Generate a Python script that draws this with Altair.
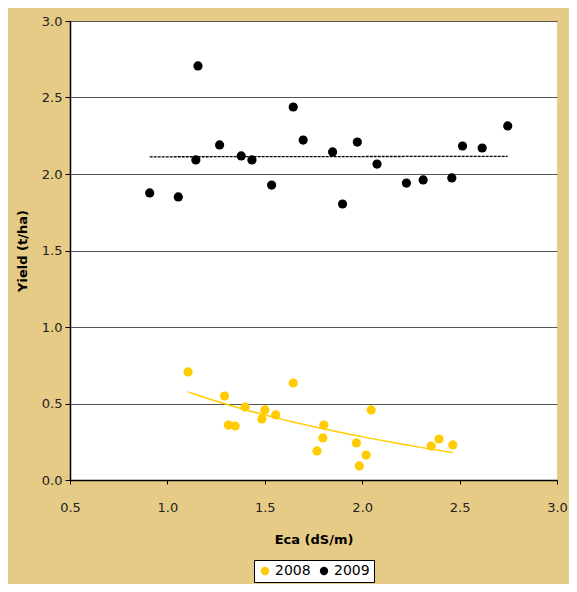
import altair as alt
import pandas as pd

eca_2008 = [1.106, 1.293, 1.313, 1.348, 1.399, 1.485, 1.500, 1.556, 1.646, 1.768,
            1.798, 1.803, 1.970, 1.985, 2.020, 2.046, 2.354, 2.394, 2.465]
yield_2008 = [0.706, 0.549, 0.359, 0.353, 0.477, 0.399, 0.458, 0.425, 0.634, 0.190,
              0.275, 0.359, 0.242, 0.092, 0.163, 0.458, 0.222, 0.268, 0.229]

eca_2009 = [0.909, 1.056, 1.146, 1.157, 1.268, 1.379, 1.434, 1.535, 1.646, 1.697,
            1.848, 1.899, 1.975, 2.076, 2.227, 2.313, 2.460, 2.515, 2.616, 2.747]
yield_2009 = [1.876, 1.850, 2.092, 2.706, 2.190, 2.118, 2.092, 1.928, 2.438, 2.222,
              2.144, 1.804, 2.209, 2.065, 1.941, 1.961, 1.974, 2.183, 2.170, 2.314]

years = ["2008", "2009"]
colors = ["#FFCC00", "#000000"]

df = pd.DataFrame({
    "Eca": eca_2008 + eca_2009,
    "Yield": yield_2008 + yield_2009,
    "Year": ["2008"] * len(eca_2008) + ["2009"] * len(eca_2009),
})

FONT = "DejaVu Sans"

xscale = alt.Scale(domain=[0.5, 3.0], nice=False, zero=False)
yscale = alt.Scale(domain=[0, 3.0], nice=False)

color = alt.Color("Year:N", scale=alt.Scale(domain=years, range=colors),
                  legend=alt.Legend(title=None, orient="none", direction="horizontal",
                                    legendX=184, legendY=539, fillColor="white",
                                    strokeColor="black", padding=4, symbolType="circle",
                                    symbolSize=70, symbolStrokeWidth=0, labelFontSize=14,
                                    labelFont=FONT, labelColor="black", columnPadding=6,
                                    labelOffset=3))

points = alt.Chart(df).mark_circle(size=85, opacity=1).encode(
    x=alt.X("Eca:Q", scale=xscale,
            axis=alt.Axis(title="Eca (dS/m)", values=[0.5, 1.0, 1.5, 2.0, 2.5, 3.0],
                          format=".1f", grid=False, tickSize=4, labelPadding=17,
                          labelFlush=False, titlePadding=19)),
    y=alt.Y("Yield:Q", scale=yscale,
            axis=alt.Axis(title="Yield (t/ha)", values=[0, 0.5, 1.0, 1.5, 2.0, 2.5, 3.0],
                          format=".1f", grid=True, tickSize=5, labelPadding=3,
                          labelFlush=False, titlePadding=12)),
    color=color,
)

trend2008 = alt.Chart(df).transform_filter(alt.datum.Year == "2008").transform_regression(
    "Eca", "Yield", method="log"
).mark_line(color="#FFCC00", strokeWidth=1.5).encode(
    x=alt.X("Eca:Q", scale=xscale), y=alt.Y("Yield:Q", scale=yscale)
)

trend2009 = alt.Chart(df).transform_filter(alt.datum.Year == "2009").transform_regression(
    "Eca", "Yield", method="linear"
).mark_line(color="black", strokeWidth=1.3, strokeDash=[3, 1]).encode(
    x=alt.X("Eca:Q", scale=xscale), y=alt.Y("Yield:Q", scale=yscale)
)

chart = alt.layer(trend2009, trend2008, points).properties(
    width=487, height=459,
    background="#E5CB85",
    padding={"left": 62, "top": 13, "right": 12, "bottom": 104},
    autosize=alt.AutoSizeParams(type="none"),
).configure_view(fill="white", stroke=None).configure_axis(
    labelFont=FONT, titleFont=FONT, labelFontSize=13, titleFontSize=13,
    labelColor="#222222", titleColor="black", titleFontWeight="bold",
    domainColor="black", tickColor="black", gridColor="#555555", gridWidth=1,
    domainWidth=1.5,
)

chart.save("out.html", embed_options={"renderer": "svg", "actions": False})
